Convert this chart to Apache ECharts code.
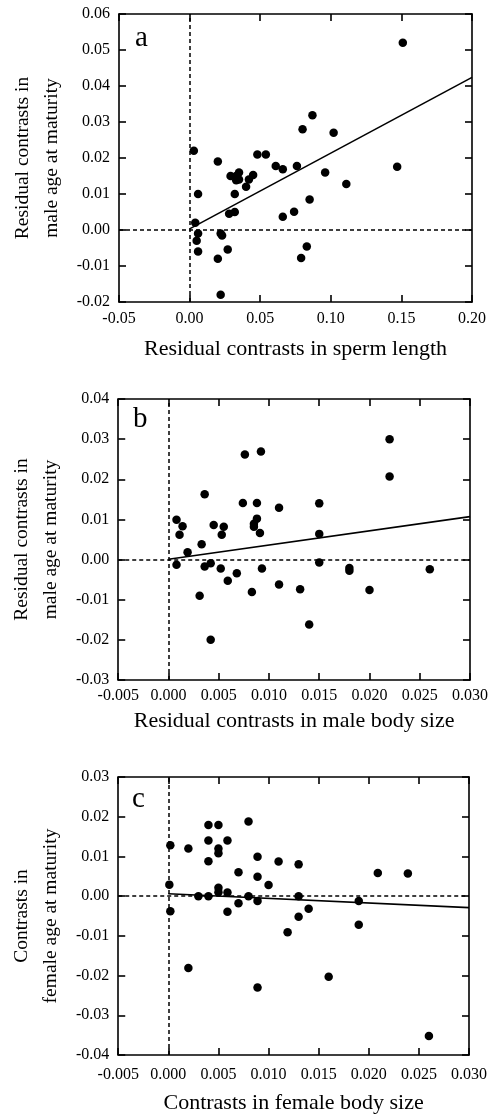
<!DOCTYPE html>
<html><head><meta charset="utf-8">
<script src="https://cdn.jsdelivr.net/npm/echarts@6/dist/echarts.min.js"></script>
<style>html,body{margin:0;padding:0;background:#fff}#c{width:496px;height:1115px}</style>
</head><body><div id="c"></div>
<script>
// Panel a
var aX = [0.151, 0.003, 0.020, 0.006, 0.004, 0.006, 0.005, 0.006, 0.020, 0.022, 0.023, 0.027, 0.022, 0.029, 0.028, 0.032, 0.032, 0.033, 0.035, 0.033, 0.035, 0.040, 0.042, 0.045, 0.048, 0.054, 0.061, 0.066, 0.066, 0.074, 0.076, 0.080, 0.079, 0.083, 0.085, 0.087, 0.096, 0.102, 0.111, 0.147];
var aY = [0.052, 0.022, 0.019, 0.010, 0.002, -0.001, -0.003, -0.006, -0.008, -0.001, -0.0015, -0.0054, -0.018, 0.015, 0.0045, 0.005, 0.010, 0.015, 0.016, 0.0138, 0.014, 0.012, 0.014, 0.0153, 0.021, 0.021, 0.0178, 0.0169, 0.0037, 0.0051, 0.0178, 0.028, -0.0078, -0.0046, 0.0085, 0.0319, 0.016, 0.027, 0.0128, 0.0176];
var aFitX = [0, 0.20];
var aFitY = [0.0003, 0.0424];
// Panel b
var bX = [0.0220, 0.0220, 0.0076, 0.0092, 0.0036, 0.0074, 0.0088, 0.0110, 0.0150, 0.0008, 0.0014, 0.0011, 0.0019, 0.0033, 0.0045, 0.0055, 0.0053, 0.0088, 0.0085, 0.0085, 0.0091, 0.0150, 0.0008, 0.0036, 0.0042, 0.0052, 0.0059, 0.0068, 0.0093, 0.0031, 0.0083, 0.0110, 0.0131, 0.0150, 0.0180, 0.0180, 0.0200, 0.0260, 0.0140, 0.0042];
var bY = [0.0300, 0.0207, 0.0262, 0.0269, 0.0163, 0.0141, 0.0141, 0.0129, 0.0140, 0.0099, 0.0083, 0.0062, 0.0018, 0.0038, 0.0086, 0.0082, 0.0062, 0.0102, 0.0089, 0.0082, 0.0066, 0.0064, -0.0013, -0.0017, -0.0009, -0.0022, -0.0053, -0.0034, -0.0022, -0.0090, -0.0081, -0.0062, -0.0074, -0.0007, -0.0021, -0.0028, -0.0076, -0.0024, -0.0162, -0.0200];
var bFitX = [0, 0.030];
var bFitY = [0.0001, 0.0107];
// Panel c
var cX = [0.0001, 0.0002, 0.0002, 0.0020, 0.0020, 0.0030, 0.0040, 0.0050, 0.0040, 0.0059, 0.0050, 0.0050, 0.0040, 0.0040, 0.0050, 0.0050, 0.0059, 0.0059, 0.0070, 0.0070, 0.0080, 0.0080, 0.0089, 0.0089, 0.0089, 0.0089, 0.0100, 0.0110, 0.0119, 0.0130, 0.0130, 0.0130, 0.0140, 0.0160, 0.0190, 0.0190, 0.0209, 0.0239, 0.0260];
var cY = [0.0029, 0.0128, -0.0038, 0.0120, -0.0181, 0.0000, 0.0179, 0.0179, 0.0140, 0.0140, 0.0120, 0.0108, 0.0088, 0.0000, 0.0021, 0.0010, 0.0009, -0.0039, 0.0060, -0.0018, 0.0188, 0.0000, 0.0099, 0.0049, -0.0012, -0.0230, 0.0028, 0.0087, -0.0091, 0.0080, 0.0000, -0.0052, -0.0032, -0.0203, -0.0012, -0.0072, 0.0058, 0.0057, -0.0352];
var cFitX = [0, 0.030];
var cFitY = [0.0006, -0.0029];

// Axis ranges [min, max, interval, decimals]
var aXRange = [-0.05, 0.20, 0.05, 2];
var aYRange = [-0.02, 0.06, 0.01, 2];
var bXRange = [-0.005, 0.030, 0.005, 3];
var bYRange = [-0.03, 0.04, 0.01, 2];
var cXRange = [-0.005, 0.030, 0.005, 3];
var cYRange = [-0.04, 0.03, 0.01, 2];

var panelLetters = ['a', 'b', 'c'];
var xTitles = ['Residual contrasts in sperm length', 'Residual contrasts in male body size', 'Contrasts in female body size'];
var yTitles = ['Residual contrasts in\nmale age at maturity', 'Residual contrasts in\nmale age at maturity', 'Contrasts in\nfemale age at maturity'];

var FONT = 'Liberation Serif';
function zip(xs, ys) { return xs.map(function (x, i) { return [x, ys[i]]; }); }

var panels = [
  {xs: aX, ys: aY, fx: aFitX, fy: aFitY, xr: aXRange, yr: aYRange, grid: {left: 119, right: 24, top: 14, height: 288}, letter: [135, 40], xGap: 36, lm: 9},
  {xs: bX, ys: bY, fx: bFitX, fy: bFitY, xr: bXRange, yr: bYRange, grid: {left: 117, right: 26, top: 399, height: 281}, letter: [133, 421], xGap: 30, lm: 8},
  {xs: cX, ys: cY, fx: cFitX, fy: cFitY, xr: cXRange, yr: cYRange, grid: {left: 116, right: 27, top: 777, height: 280}, letter: [132, 801], xGap: 37, lm: 12}
];

var option = {backgroundColor: '#fff', animation: false, grid: [], xAxis: [], yAxis: [], series: [], graphic: []};
var lineSt = {color: '#000', width: 1.6};
panels.forEach(function (p, i) {
  option.grid.push(p.grid);
  var xBase = {type: 'value', gridIndex: i, min: p.xr[0], max: p.xr[1], interval: p.xr[2],
    splitLine: {show: false}, axisLine: {show: true, onZero: false, lineStyle: lineSt},
    axisTick: {show: true, inside: true, length: 7, lineStyle: lineSt}};
  var yBase = {type: 'value', gridIndex: i, min: p.yr[0], max: p.yr[1], interval: p.yr[2],
    splitLine: {show: false}, axisLine: {show: true, onZero: false, lineStyle: lineSt},
    axisTick: {show: true, inside: true, length: 7, lineStyle: lineSt}};
  option.xAxis.push(Object.assign({}, xBase, {position: 'bottom',
    axisLabel: {show: true, fontFamily: FONT, fontSize: 16, color: '#000', margin: p.lm,
      formatter: (function (d) { return function (v) { return v.toFixed(d); }; })(p.xr[3])},
    name: xTitles[i], nameLocation: 'middle', nameGap: p.xGap,
    nameTextStyle: {fontFamily: FONT, fontSize: 22, color: '#000'}}));
  option.xAxis.push(Object.assign({}, xBase, {position: 'top', axisLabel: {show: false}}));
  option.yAxis.push(Object.assign({}, yBase, {position: 'left',
    axisLabel: {show: true, fontFamily: FONT, fontSize: 16, color: '#000', margin: 9,
      formatter: (function (d) { return function (v) { return v.toFixed(d); }; })(p.yr[3])},
    name: yTitles[i], nameLocation: 'middle', nameGap: 40, nameRotate: 90,
    nameTextStyle: {fontFamily: FONT, fontSize: 19.5, color: '#000', lineHeight: 28.5}}));
  option.yAxis.push(Object.assign({}, yBase, {position: 'right', axisLabel: {show: false}}));
  var xi = i * 2, yi = i * 2;
  option.series.push({type: 'scatter', xAxisIndex: xi, yAxisIndex: yi, data: zip(p.xs, p.ys),
    symbolSize: 8.5, itemStyle: {color: '#000', opacity: 1}, z: 5,
    markLine: {silent: true, symbol: 'none', label: {show: false},
      lineStyle: {color: '#000', width: 1.5, type: [4, 3], opacity: 1},
      data: [{xAxis: 0}, {yAxis: 0}]}});
  option.series.push({type: 'line', xAxisIndex: xi, yAxisIndex: yi, data: zip(p.fx, p.fy),
    symbol: 'none', lineStyle: {color: '#000', width: 1.6}, z: 4});
  option.graphic.push({type: 'text', left: p.letter[0], top: p.letter[1] - 16,
    style: {text: panelLetters[i], font: '29px "Liberation Serif"', fill: '#000'}});
});
var chart = echarts.init(document.getElementById('c'), null, {renderer: 'canvas'});
chart.setOption(option);
</script>
</body></html>
